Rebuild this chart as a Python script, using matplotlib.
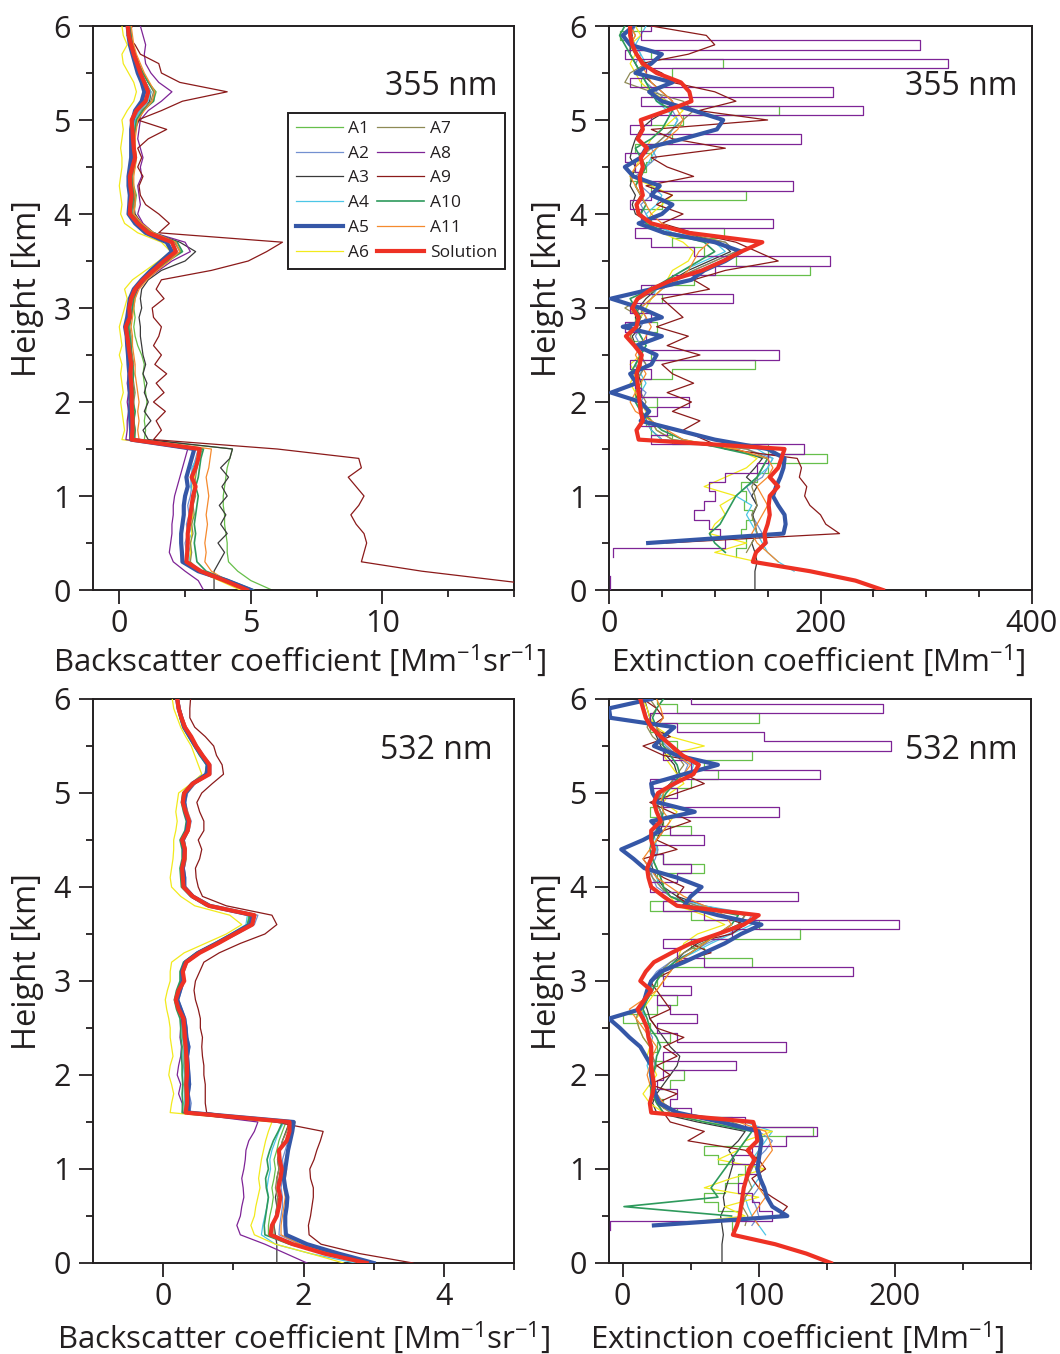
import numpy as np
import matplotlib
matplotlib.use('Agg')
import matplotlib.pyplot as plt

plt.rcParams['font.family'] = ['Open Sans', 'DejaVu Sans']
plt.rcParams['mathtext.fontset'] = 'custom'
plt.rcParams['mathtext.rm'] = 'Open Sans'
plt.rcParams['mathtext.default'] = 'regular'

nan = float('nan')

# height grid of every profile [km]
heights = np.round(np.linspace(0.0, 6.0, 61), 1)

names = ['A1', 'A2', 'A3', 'A4', 'A5', 'A6', 'A7', 'A8', 'A9', 'A10', 'A11', 'Solution']

# ---------------- 355 nm backscatter [Mm-1 sr-1] ----------------
b355_a1 = [5.8, 5.0, 4.5, 4.15, 4.1, 4.1, 4.05, 4.0, 4.0, 3.95,
           3.95, 4.0, 4.05, 4.1, 4.2, 4.3, 0.95, 1.0, 0.95, 1.0,
           1.05, 1.0, 0.95, 0.9, 0.95, 0.85, 0.7, 0.6, 0.55, 0.6,
           0.55, 0.6, 0.7, 0.95, 1.35, 1.8, 2.35, 2.1, 1.2, 0.8,
           0.55, 0.6, 0.65, 0.55, 0.5, 0.6, 0.65, 0.6, 0.6, 0.55,
           0.55, 0.8, 1.3, 1.4, 1.1, 0.9, 0.75, 0.6, 0.5, 0.45,
           0.4]
b355_a2 = [4.9, 4.0, 3.0, 2.5, 2.55, 2.5, 2.6, 2.55, 2.65, 2.6,
           2.7, 2.75, 2.7, 2.8, 2.9, 3.0, 0.5, 0.55, 0.5, 0.45,
           0.5, 0.45, 0.5, 0.45, 0.4, 0.42, 0.4, 0.35, 0.3, 0.4,
           0.42, 0.5, 0.65, 0.95, 1.35, 1.75, 2.2, 1.95, 1.15, 0.7,
           0.42, 0.45, 0.5, 0.45, 0.42, 0.5, 0.55, 0.5, 0.5, 0.5,
           0.55, 0.75, 1.05, 1.15, 1.0, 0.8, 0.65, 0.55, 0.45, 0.4,
           0.35]
b355_a3 = [3.6, 3.6, 3.6, 3.8, 4.0, 3.75, 4.1, 3.85, 4.05, 3.8,
           4.1, 3.9, 4.15, 3.85, 4.2, 4.3, 1.1, 0.9, 1.2, 0.95,
           1.1, 0.95, 1.05, 0.9, 1.0, 0.9, 0.85, 0.8, 0.8, 0.75,
           0.85, 0.8, 0.85, 1.1, 1.6, 2.5, 2.9, 2.3, 1.3, 0.85,
           0.6, 0.55, 0.6, 0.5, 0.45, 0.55, 0.6, 0.55, 0.55, 0.6,
           0.75, 0.9, 1.15, 1.2, 1.0, 0.8, 0.65, 0.5, 0.45, 0.4,
           0.35]
b355_a4 = [4.7, 3.9, 3.0, 2.65, 2.7, 2.6, 2.75, 2.65, 2.8, 2.7,
           2.85, 2.7, 2.8, 2.75, 2.95, 3.1, 0.55, 0.5, 0.55, 0.5,
           0.55, 0.5, 0.5, 0.45, 0.5, 0.45, 0.4, 0.4, 0.35, 0.4,
           0.45, 0.5, 0.6, 0.9, 1.3, 1.7, 2.1, 2.0, 1.2, 0.75,
           0.45, 0.5, 0.5, 0.45, 0.45, 0.5, 0.55, 0.5, 0.5, 0.55,
           0.6, 0.8, 1.1, 1.2, 1.0, 0.85, 0.7, 0.55, 0.45, 0.4,
           0.35]
b355_a5 = [5.0, 4.1, 3.0, 2.4, 2.38, 2.35, 2.35, 2.4, 2.45, 2.45,
           2.5, 2.6, 2.55, 2.65, 2.75, 2.85, 0.45, 0.45, 0.42, 0.4,
           0.42, 0.4, 0.38, 0.38, 0.35, 0.33, 0.3, 0.28, 0.22, 0.3,
           0.35, 0.4, 0.55, 0.85, 1.2, 1.6, 2.0, 1.8, 1.0, 0.6,
           0.35, 0.38, 0.4, 0.35, 0.35, 0.4, 0.45, 0.45, 0.45, 0.45,
           0.5, 0.6, 0.85, 0.95, 0.85, 0.7, 0.6, 0.5, 0.4, 0.35,
           0.32]
b355_a6 = [4.6, 3.8, 3.0, 2.7, 2.7, 2.72, 2.75, 2.75, 2.8, 2.8,
           2.85, 2.8, 2.85, 2.9, 2.95, 3.0, 0.1, 0.2, 0.15, 0.1,
           0.05, 0.15, 0.1, 0.05, 0.1, 0.0, 0.1, 0.05, 0.0, 0.1,
           0.2, 0.3, 0.2, 0.5, 1.0, 1.5, 1.95, 1.6, 0.7, 0.2,
           0.05, 0.1, 0.05, 0.0, 0.05, 0.1, 0.1, 0.05, 0.1, 0.15,
           0.1, 0.3, 0.55, 0.65, 0.55, 0.35, 0.15, 0.1, 0.3, 0.15,
           0.1]
b355_a7 = [4.8, 4.0, 3.1, 2.7, 2.75, 2.7, 2.8, 2.75, 2.85, 2.8,
           2.9, 2.85, 2.9, 2.95, 3.05, 3.15, 0.6, 0.6, 0.55, 0.6,
           0.55, 0.6, 0.55, 0.5, 0.55, 0.5, 0.45, 0.45, 0.4, 0.45,
           0.5, 0.55, 0.7, 1.0, 1.4, 1.85, 2.3, 2.1, 1.25, 0.8,
           0.5, 0.55, 0.55, 0.5, 0.5, 0.55, 0.6, 0.55, 0.55, 0.6,
           0.65, 0.85, 1.2, 1.3, 1.1, 0.9, 0.75, 0.6, 0.5, 0.45,
           0.4]
b355_a8 = [3.2, 3.0, 2.5, 2.05, 1.9, 1.95, 2.0, 2.0, 2.05, 2.05,
           2.1, 2.2, 2.3, 2.4, 2.5, 2.6, 0.25, 0.3, 0.3, 0.35,
           0.3, 0.35, 0.3, 0.35, 0.4, 0.38, 0.4, 0.35, 0.3, 0.45,
           0.5, 0.55, 0.7, 1.0, 1.5, 2.0, 2.7, 2.5, 1.3, 0.9,
           0.7, 0.8, 0.75, 0.7, 0.85, 0.8, 0.9, 0.8, 0.7, 0.75,
           0.8, 1.1, 1.6, 2.0, 1.5, 1.2, 1.0, 0.95, 1.0, 0.9,
           0.8]
b355_a9 = [17.5, 14.5, 11.5, 9.2, 9.3, 9.4, 9.3, 9.0, 8.8, 9.1,
           9.3, 9.0, 8.7, 9.2, 9.1, 6.0, 1.3, 1.6, 1.4, 1.75,
           1.3, 1.7, 1.4, 1.8, 1.35, 1.6, 1.3, 1.5, 1.6, 1.3,
           1.25, 1.7, 1.4, 1.6, 3.5, 4.9, 5.6, 6.2, 1.5, 1.9,
           1.5, 1.0, 0.8, 0.75, 0.9, 0.7, 0.85, 0.7, 1.1, 1.8,
           0.7, 1.6, 2.4, 4.1, 2.3, 1.6, 1.5, 0.8, 0.6, 0.3,
           0.5]
b355_a10 = [5.1, 4.2, 3.3, 2.95, 2.9, 2.85, 2.9, 2.85, 2.9, 2.95,
            3.0, 2.9, 3.0, 3.05, 3.1, 3.2, 0.55, 0.6, 0.55, 0.6,
            0.5, 0.55, 0.5, 0.55, 0.5, 0.45, 0.45, 0.4, 0.35, 0.45,
            0.5, 0.55, 0.65, 0.95, 1.4, 1.85, 2.4, 2.2, 1.3, 0.8,
            0.45, 0.5, 0.55, 0.5, 0.45, 0.55, 0.6, 0.55, 0.55, 0.6,
            0.65, 0.9, 1.3, 1.35, 1.1, 0.9, 0.7, 0.6, 0.5, 0.45,
            0.4]
b355_a11 = [4.9, 4.1, 3.5, 3.25, 3.3, 3.25, 3.3, 3.35, 3.3, 3.35,
            3.4, 3.35, 3.3, 3.4, 3.45, 3.5, 0.75, 0.7, 0.75, 0.7,
            0.75, 0.7, 0.65, 0.6, 0.6, 0.55, 0.5, 0.5, 0.45, 0.5,
            0.55, 0.6, 0.75, 1.05, 1.45, 1.9, 2.3, 2.15, 1.3, 0.85,
            0.55, 0.6, 0.6, 0.55, 0.55, 0.6, 0.65, 0.6, 0.6, 0.65,
            0.7, 0.95, 1.25, 1.35, 1.15, 0.95, 0.8, 0.65, 0.55, 0.5,
            0.45]
b355_sol = [4.85, 4.0, 3.1, 2.55, 2.58, 2.6, 2.6, 2.65, 2.7, 2.75,
            2.8, 2.9, 2.75, 2.9, 3.0, 3.05, 0.47, 0.5, 0.5, 0.48,
            0.47, 0.47, 0.45, 0.42, 0.45, 0.4, 0.35, 0.3, 0.25, 0.4,
            0.38, 0.45, 0.6, 0.9, 1.3, 1.7, 2.15, 2.0, 1.1, 0.7,
            0.4, 0.42, 0.47, 0.42, 0.4, 0.5, 0.6, 0.55, 0.52, 0.5,
            0.47, 0.65, 1.0, 1.1, 0.95, 0.8, 0.68, 0.55, 0.45, 0.36,
            0.32]

# ---------------- 355 nm extinction [Mm-1] ----------------
e355_a1 = [nan, nan, nan, nan, 120, 130, 125, 130, 135, 128,
           130, 125, 140, 150, 206, 150, 60, 40, 35, 30,
           45, 25, 30, 60, 138, 40, 30, 20, 45, 25,
           30, 50, 40, 80, 190, 120, 90, 60, 109, 40,
           30, 50, 130, 40, 20, 35, 40, 25, 60, 30,
           70, 161, 50, 40, 30, 60, 108, 40, 20, 10,
           30]
e355_a2 = [nan, nan, nan, nan, 140, 150, 145, 140, 135, 140,
           135, 130, 145, 150, 155, 130, 60, 45, 40, 35,
           30, 35, 25, 30, 35, 28, 30, 25, 30, 35,
           30, 40, 50, 65, 80, 100, 120, 110, 60, 40,
           35, 30, 40, 30, 25, 35, 45, 40, 50, 60,
           65, 60, 55, 45, 35, 30, 25, 30, 25, 20,
           25]
e355_a3 = [138, 138, 138, 140, 138, 135, 140, 138, 136, 140,
           135, 140, 130, 138, 145, 120, 50, 40, 35, 30,
           28, 25, 30, 28, 25, 30, 25, 22, 30, 25,
           28, 35, 45, 60, 75, 95, 115, 105, 70, 40,
           25, 22, 25, 20, 22, 25, 20, 22, 25, 30,
           40, 55, 60, 50, 40, 30, 25, 20, 20, 22,
           20]
e355_a4 = [nan, nan, 175, 160, 150, 145, 140, 135, 130, 135,
           120, 130, 140, 150, 155, 140, 50, 40, 35, 30,
           25, 30, 35, 30, 25, 30, 35, 30, 25, 30,
           35, 40, 45, 55, 70, 90, 110, 100, 60, 40,
           35, 45, 50, 40, 30, 35, 40, 45, 55, 60,
           65, 55, 45, 40, 35, 30, 35, 30, 25, 30,
           35]
e355_a5 = [nan, nan, nan, nan, nan, 37, 165, 167, 166, 160,
           155, 158, 162, 165, 166, 150, 100, 65, 30, 38,
           30, 2, 26, 20, 40, 45, 26, 50, 13, 50,
           30, 2, 40, 78, 90, 110, 125, 100, 52, 28,
           50, 60, 40, 48, 23, 15, 30, 35, 70, 102,
           108, 80, 50, 38, 60, 25, 40, 50, 20, 13,
           23]
e355_a6 = [nan, nan, nan, 140, 100, 130, 95, 100, 110, 105,
           120, 90, 110, 130, 140, 120, 60, 45, 40, 35,
           30, 25, 20, 25, 20, 30, 25, 20, 25, 30,
           35, 40, 50, 55, 60, 75, 80, 70, 50, 35,
           40, 50, 60, 40, 20, 25, 30, 35, 40, 50,
           60, 70, 55, 40, 30, 25, 20, 25, 20, 30,
           25]
e355_a7 = [nan, nan, nan, nan, 130, 135, 140, 138, 135, 140,
           138, 135, 140, 145, 150, 130, 60, 45, 40, 30,
           35, 30, 25, 30, 35, 30, 25, 20, 25, 30,
           15, 30, 45, 60, 80, 100, 120, 110, 70, 40,
           30, 25, 30, 25, 30, 35, 30, 40, 50, 60,
           70, 80, 70, 40, 15, 20, 35, 25, 20, 25,
           20]
e355_a8 = [1, 1, nan, nan, 4, 110, 105, 95, 80, 90,
           100, 95, 110, 140, 150, 184, 40, 55, 30, 45,
           76, 30, 25, 40, 20, 161, 30, 35, 15, 40,
           20, 117, 30, 60, 100, 209, 80, 40, 25, 155,
           30, 20, 40, 174, 30, 25, 15, 35, 182, 20,
           40, 240, 30, 212, 20, 35, 321, 15, 294, 30,
           40]
e355_a9 = [nan, nan, nan, nan, nan, 54, 218, 205, 200, 190,
           185, 187, 180, 182, 178, 110, 90, 70, 86, 60,
           78, 55, 80, 60, 50, 86, 55, 75, 45, 70,
           60, 50, 95, 80, 110, 160, 140, 120, 80, 50,
           70, 45, 60, 35, 80, 55, 40, 110, 60, 40,
           150, 85, 120, 100, 60, 50, 30, 75, 100, 92,
           40]
e355_a10 = [nan, nan, nan, nan, 110, 100, 95, 105, 110, 115,
            120, 130, 140, 145, 150, 110, 70, 50, 40, 30,
            25, 30, 25, 20, 25, 30, 35, 30, 25, 30,
            25, 20, 40, 55, 70, 85, 100, 90, 55, 35,
            30, 35, 30, 25, 30, 35, 30, 25, 40, 50,
            55, 60, 45, 40, 35, 30, 25, 20, 15, 10,
            15]
e355_a11 = [nan, nan, nan, 160, 150, 140, 135, 140, 145, 150,
            145, 140, 150, 155, 150, 120, 70, 55, 40, 25,
            20, 25, 30, 35, 30, 25, 30, 35, 40, 35,
            30, 40, 50, 65, 75, 80, 85, 95, 70, 50,
            40, 35, 30, 25, 20, 25, 35, 45, 55, 65,
            70, 65, 60, 50, 40, 35, 30, 25, 20, 25,
            20]
e355_sol = [259, 233, 190, 136, 139, 148, 147, 150, 152, 151,
            152, 160, 152, 160, 163, 166, 28, 26, 32, 30,
            29, 28, 27, 26, 29, 31, 24, 16, 26, 28,
            22, 27, 40, 60, 88, 108, 125, 145, 75, 40,
            28, 26, 32, 30, 29, 32, 30, 36, 27, 32,
            30, 55, 78, 76, 68, 45, 32, 26, 22, 20,
            20]

# ---------------- 532 nm backscatter [Mm-1 sr-1] ----------------
b532_a1 = [2.85, 2.3, 1.8, 1.5, 1.5, 1.52, 1.55, 1.57, 1.55, 1.58,
           1.6, 1.58, 1.62, 1.65, 1.7, 1.75, 0.3, 0.3, 0.32, 0.3,
           0.32, 0.31, 0.3, 0.3, 0.28, 0.28, 0.27, 0.22, 0.18, 0.2,
           0.26, 0.25, 0.3, 0.48, 0.74, 0.98, 1.2, 1.22, 0.62, 0.4,
           0.28, 0.27, 0.26, 0.29, 0.29, 0.26, 0.33, 0.35, 0.3, 0.27,
           0.29, 0.4, 0.62, 0.62, 0.53, 0.45, 0.38, 0.3, 0.25, 0.21,
           0.2]
b532_a2 = [2.95, 2.45, 1.95, 1.65, 1.66, 1.68, 1.7, 1.7, 1.68, 1.7,
           1.72, 1.7, 1.74, 1.78, 1.82, 1.86, 0.38, 0.4, 0.37, 0.39,
           0.38, 0.37, 0.36, 0.38, 0.35, 0.34, 0.32, 0.27, 0.22, 0.26,
           0.3, 0.3, 0.35, 0.54, 0.8, 1.06, 1.3, 1.35, 0.7, 0.45,
           0.32, 0.32, 0.3, 0.33, 0.33, 0.3, 0.37, 0.4, 0.35, 0.32,
           0.35, 0.46, 0.68, 0.68, 0.58, 0.49, 0.41, 0.33, 0.28, 0.24,
           0.22]
b532_a3 = [1.62, 1.62, 1.62, 1.6, 1.58, 1.6, 1.62, 1.6, 1.63, 1.62,
           1.65, 1.63, 1.67, 1.7, 1.75, 1.8, 0.33, 0.33, 0.34, 0.32,
           0.34, 0.33, 0.32, 0.33, 0.3, 0.3, 0.29, 0.24, 0.2, 0.23,
           0.28, 0.28, 0.33, 0.52, 0.78, 1.02, 1.25, 1.28, 0.65, 0.42,
           0.3, 0.3, 0.28, 0.31, 0.31, 0.28, 0.35, 0.37, 0.33, 0.29,
           0.31, 0.43, 0.64, 0.65, 0.55, 0.46, 0.39, 0.31, 0.26, 0.22,
           0.21]
b532_a4 = [2.74, 2.1, 1.6, 1.4, 1.42, 1.45, 1.48, 1.5, 1.48, 1.5,
           1.53, 1.52, 1.55, 1.6, 1.65, 1.72, 0.3, 0.31, 0.3, 0.3,
           0.3, 0.29, 0.28, 0.3, 0.27, 0.27, 0.26, 0.21, 0.17, 0.2,
           0.25, 0.25, 0.3, 0.47, 0.72, 0.96, 1.18, 1.2, 0.6, 0.39,
           0.27, 0.26, 0.26, 0.28, 0.28, 0.26, 0.32, 0.34, 0.3, 0.27,
           0.28, 0.39, 0.6, 0.61, 0.52, 0.44, 0.37, 0.29, 0.24, 0.21,
           0.19]
b532_a5 = [3.0, 2.5, 2.05, 1.75, 1.74, 1.74, 1.76, 1.77, 1.74, 1.72,
           1.74, 1.76, 1.78, 1.81, 1.84, 1.86, 0.36, 0.36, 0.35, 0.37,
           0.36, 0.35, 0.34, 0.36, 0.33, 0.32, 0.3, 0.25, 0.2, 0.24,
           0.28, 0.27, 0.32, 0.5, 0.76, 1.0, 1.24, 1.28, 0.66, 0.42,
           0.3, 0.3, 0.28, 0.3, 0.3, 0.28, 0.34, 0.36, 0.32, 0.3,
           0.32, 0.42, 0.62, 0.64, 0.55, 0.46, 0.38, 0.3, 0.26, 0.22,
           0.2]
b532_a6 = [2.57, 2.1, 1.6, 1.3, 1.25, 1.3, 1.32, 1.35, 1.38, 1.36,
           1.38, 1.4, 1.43, 1.46, 1.5, 1.55, 0.1, 0.12, 0.15, 0.12,
           0.08, 0.1, 0.14, 0.12, 0.1, 0.1, 0.08, 0.05, 0.03, 0.06,
           0.1, 0.1, 0.12, 0.3, 0.6, 0.9, 1.12, 0.95, 0.45, 0.25,
           0.12, 0.1, 0.12, 0.14, 0.15, 0.15, 0.18, 0.2, 0.18, 0.2,
           0.22, 0.4, 0.55, 0.5, 0.45, 0.4, 0.32, 0.25, 0.2, 0.15,
           0.13]
b532_a7 = [2.9, 2.35, 1.85, 1.58, 1.58, 1.6, 1.62, 1.63, 1.6, 1.62,
           1.65, 1.63, 1.66, 1.7, 1.76, 1.8, 0.31, 0.32, 0.31, 0.31,
           0.31, 0.3, 0.3, 0.31, 0.28, 0.28, 0.27, 0.22, 0.18, 0.21,
           0.26, 0.26, 0.31, 0.5, 0.76, 1.0, 1.22, 1.25, 0.63, 0.41,
           0.29, 0.28, 0.27, 0.3, 0.3, 0.27, 0.34, 0.36, 0.31, 0.28,
           0.3, 0.41, 0.63, 0.63, 0.54, 0.45, 0.38, 0.3, 0.25, 0.22,
           0.2]
b532_a8 = [2.05, 1.75, 1.45, 1.1, 1.05, 1.1, 1.12, 1.15, 1.14, 1.12,
           1.15, 1.17, 1.18, 1.22, 1.3, 1.35, 0.28, 0.27, 0.22, 0.25,
           0.2, 0.22, 0.25, 0.26, 0.24, 0.25, 0.26, 0.22, 0.18, 0.2,
           0.26, 0.27, 0.33, 0.52, 0.78, 1.05, 1.25, 1.3, 0.66, 0.42,
           0.3, 0.3, 0.28, 0.31, 0.32, 0.28, 0.36, 0.38, 0.34, 0.3,
           0.33, 0.45, 0.66, 0.66, 0.56, 0.47, 0.4, 0.32, 0.27, 0.24,
           0.22]
b532_a9 = [3.56, 2.8, 2.25, 2.08, 2.07, 2.1, 2.12, 2.14, 2.14, 2.1,
           2.09, 2.15, 2.19, 2.24, 2.28, 1.6, 0.62, 0.6, 0.6, 0.6,
           0.58, 0.58, 0.56, 0.55, 0.56, 0.53, 0.53, 0.5, 0.46, 0.44,
           0.46, 0.52, 0.58, 0.8, 1.1, 1.45, 1.62, 1.55, 0.9, 0.56,
           0.5, 0.47, 0.46, 0.52, 0.55, 0.5, 0.58, 0.58, 0.52, 0.48,
           0.55, 0.7, 0.86, 0.84, 0.76, 0.72, 0.6, 0.45, 0.38, 0.38,
           0.39]
b532_a10 = [2.95, 2.35, 1.8, 1.45, 1.44, 1.46, 1.48, 1.5, 1.47, 1.46,
            1.5, 1.48, 1.52, 1.57, 1.64, 1.7, 0.27, 0.28, 0.27, 0.28,
            0.27, 0.27, 0.26, 0.27, 0.25, 0.25, 0.24, 0.19, 0.16, 0.19,
            0.24, 0.24, 0.29, 0.47, 0.73, 0.98, 1.2, 1.24, 0.62, 0.39,
            0.26, 0.25, 0.24, 0.27, 0.27, 0.24, 0.31, 0.33, 0.29, 0.26,
            0.28, 0.4, 0.6, 0.62, 0.52, 0.44, 0.36, 0.28, 0.24, 0.21,
            0.19]
b532_a11 = [2.9, 2.4, 1.95, 1.68, 1.68, 1.7, 1.72, 1.74, 1.72, 1.74,
            1.76, 1.74, 1.77, 1.8, 1.84, 1.88, 0.34, 0.35, 0.34, 0.35,
            0.35, 0.34, 0.34, 0.35, 0.32, 0.32, 0.31, 0.26, 0.21, 0.24,
            0.29, 0.29, 0.34, 0.53, 0.8, 1.05, 1.28, 1.32, 0.68, 0.44,
            0.32, 0.31, 0.3, 0.33, 0.33, 0.3, 0.37, 0.39, 0.35, 0.31,
            0.34, 0.45, 0.67, 0.67, 0.57, 0.48, 0.41, 0.33, 0.28, 0.24,
            0.22]
b532_sol = [2.9, 2.3, 1.85, 1.53, 1.55, 1.62, 1.65, 1.67, 1.64, 1.67,
            1.69, 1.66, 1.65, 1.76, 1.8, 1.8, 0.32, 0.34, 0.34, 0.33,
            0.34, 0.34, 0.33, 0.32, 0.31, 0.3, 0.29, 0.22, 0.18, 0.22,
            0.3, 0.28, 0.33, 0.52, 0.78, 1.02, 1.27, 1.3, 0.65, 0.42,
            0.29, 0.28, 0.27, 0.3, 0.31, 0.27, 0.35, 0.37, 0.32, 0.28,
            0.3, 0.42, 0.66, 0.66, 0.56, 0.47, 0.4, 0.31, 0.26, 0.22,
            0.2]

# ---------------- 532 nm extinction [Mm-1] ----------------
e532_a1 = [nan, nan, nan, nan, 80, 85, 70, 60, 75, 85,
           90, 70, 60, 100, 140, 80, 40, 30, 20, 35,
           45, 30, 20, 25, 35, 20, 0, 25, 40, 20,
           25, 30, 95, 60, 50, 130, 100, 50, 20, 40,
           30, 25, 60, 30, 25, 20, 50, 30, 20, 25,
           30, 50, 70, 60, 95, 40, 30, 20, 100, 40,
           25]
e532_a2 = [nan, nan, nan, nan, 95, 100, 98, 95, 100, 102,
           100, 98, 105, 110, 100, 70, 35, 28, 25, 23,
           22, 24, 22, 20, 22, 18, 16, 14, 18, 22,
           20, 25, 35, 50, 62, 78, 90, 95, 55, 35,
           25, 22, 20, 24, 26, 22, 24, 30, 28, 25,
           28, 35, 45, 48, 40, 32, 26, 22, 18, 16,
           15]
e532_a3 = [73, 73, 73, 74, 73, 72, 75, 74, 76, 78,
           80, 82, 78, 85, 90, 55, 25, 22, 25, 30,
           35, 40, 42, 35, 30, 25, 20, 18, 15, 18,
           22, 30, 38, 45, 55, 70, 85, 90, 60, 40,
           30, 25, 22, 20, 22, 25, 28, 30, 28, 25,
           28, 35, 40, 38, 32, 28, 25, 22, 20, 18,
           16]
e532_a4 = [nan, nan, nan, 105, 100, 95, 92, 90, 95, 100,
           98, 95, 100, 105, 110, 90, 40, 30, 25, 22,
           20, 18, 20, 22, 20, 18, 16, 15, 18, 20,
           22, 28, 38, 52, 65, 80, 95, 100, 60, 35,
           28, 25, 20, 22, 25, 24, 22, 26, 28, 25,
           30, 40, 50, 52, 42, 34, 28, 22, 18, 16,
           14]
e532_a5 = [nan, nan, nan, nan, 23, 121, 110, 106, 104, 101,
           99, 100, 101, 102, 100, 72, 40, 27, 24, 22,
           21, 21, 17, 13, 5, -2, -10, 13, 16, 18,
           21, 28, 45, 60, 75, 87, 102, 70, 45, 50,
           58, 40, 16, 8, -1, 15, 28, 21, 53, 26,
           22, 21, 45, 70, 40, 23, 30, 38, -9, -10,
           21]
e532_a6 = [nan, nan, nan, nan, 30, 90, 75, 100, 60, 80,
           105, 70, 85, 90, 110, 60, 30, 20, 15, 20,
           25, 22, 18, 20, 15, 12, 10, 15, 20, 25,
           30, 35, 40, 42, 45, 55, 75, 60, 40, 35,
           30, 28, 25, 22, 20, 25, 30, 35, 40, 30,
           35, 45, 40, 35, 30, 60, 35, 25, 20, 18,
           15]
e532_a7 = [nan, nan, nan, nan, 90, 92, 88, 90, 95, 92,
           95, 98, 100, 102, 100, 80, 35, 25, 22, 20,
           22, 25, 22, 20, 15, 12, 10, 12, 15, 20,
           22, 28, 35, 45, 58, 72, 85, 90, 55, 35,
           28, 22, 18, 20, 24, 22, 25, 30, 28, 25,
           28, 35, 40, 45, 40, 30, 22, 18, 20, 25,
           20]
e532_a8 = [nan, nan, nan, nan, -9, 110, 100, 95, 85, 90,
           100, 80, 95, 120, 143, 90, 50, 35, 40, 25,
           30, 83, 30, 120, 40, 25, 55, 35, 25, 50,
           30, 169, 60, 40, 30, 80, 203, 60, 30, 129,
           20, 40, 50, 30, 20, 60, 35, 25, 115, 30,
           40, 20, 145, 50, 30, 197, 104, 40, 20, 191,
           50]
e532_a9 = [nan, nan, nan, nan, nan, 115, 121, 110, 100, 95,
           105, 100, 90, 48, 60, 35, 30, 25, 40, 20,
           35, 25, 40, 30, 45, 25, 20, 35, 30, 25,
           20, 35, 40, 65, 50, 80, 90, 70, 50, 40,
           45, 30, 20, 15, 40, 25, 30, 50, 35, 20,
           40, 60, 45, 70, 30, 15, 35, 20, 30, 25,
           15]
e532_a10 = [nan, nan, nan, nan, nan, 80, 1, 70, 65, 70,
            75, 80, 85, 90, 95, 60, 30, 25, 22, 20,
            22, 24, 25, 28, 25, 20, 18, 15, 18, 22,
            25, 30, 38, 50, 60, 70, 80, 85, 50, 35,
            30, 28, 25, 22, 20, 22, 25, 28, 30, 28,
            32, 38, 42, 40, 35, 30, 28, 25, 22, 25,
            30]
e532_a11 = [nan, nan, nan, nan, 100, 95, 100, 105, 100, 102,
            100, 105, 110, 108, 105, 85, 40, 30, 25, 20,
            18, 20, 22, 25, 20, 15, 10, 5, 15, 25,
            30, 35, 40, 50, 60, 70, 80, 75, 60, 45,
            35, 25, 20, 15, 20, 25, 30, 35, 30, 28,
            30, 38, 45, 50, 40, 35, 30, 25, 30, 28,
            25]
e532_sol = [153, 135, 112, 81, 84, 86, 87, 88, 89, 91,
            93, 97, 92, 99, 98, 96, 21, 20, 22, 23,
            22, 21, 21, 21, 19, 18, 15, 11, 16, 21,
            13, 17, 23, 36, 50, 70, 89, 100, 40, 30,
            21, 19, 18, 21, 23, 21, 21, 28, 25, 23,
            26, 38, 52, 56, 44, 36, 28, 21, 17, 15,
            13]

colors = {'A1': '#66BF4A', 'A2': '#7390D0', 'A3': '#3A3A3A', 'A4': '#4CC6E6',
          'A5': '#3557A7', 'A6': '#F2EA1C', 'A7': '#8E8A55', 'A8': '#7E2496',
          'A9': '#8B1A1A', 'A10': '#2E9A5C', 'A11': '#F58A2E', 'Solution': '#EE3124'}
widths = {'A5': 3.0, 'Solution': 3.0, 'A10': 1.2}
TXT = '#231F20'


def vsteps(h, v):
    """Turn a profile into a stair line: value held over each height bin."""
    h = np.asarray(h, float)
    v = np.asarray(v, float)
    mid = (h[:-1] + h[1:]) / 2
    hh = np.concatenate([[h[0]], np.repeat(mid, 2), [h[-1]]])
    return np.repeat(v, 2), hh


def drawPanel(ax, profiles, stepped=()):
    handles = {}
    order = [n for n in names if n not in ('A5', 'Solution')] + ['A5', 'Solution']
    for z, name in enumerate(order):
        vals = profiles[names.index(name)]
        if name in stepped:
            x, y = vsteps(heights, vals)
        else:
            x, y = np.asarray(vals, float), heights
        line, = ax.plot(x, y, color=colors[name], lw=widths.get(name, 0.9),
                        label=name, zorder=2 + z, solid_joinstyle='round')
        handles[name] = line
    return [handles[n] for n in names]


def styleAxes(ax, xlim, major, minor, xlabel, tag, tag_pos, xlabel_pos, ylabel_x):
    ax.set_xlim(*xlim)
    ax.set_ylim(0, 6)
    ax.set_xticks(major)
    ax.set_xticks(minor, minor=True)
    ax.set_yticks(range(7))
    ax.set_yticks(np.arange(0.5, 6, 1.0), minor=True)
    ax.tick_params(which='major', direction='out', length=10, width=1.3,
                   labelsize=22, colors=TXT, pad=4)
    ax.tick_params(which='minor', direction='out', length=5, width=1.3, colors=TXT)
    ax.tick_params(axis='y', which='major', pad=6)
    for s in ax.spines.values():
        s.set_linewidth(1.4)
        s.set_color(TXT)
    ax.set_ylabel('Height [km]', fontsize=23.5, color=TXT)
    ax.yaxis.set_label_coords(ylabel_x, 0.535)
    ax.set_xlabel(xlabel, fontsize=22.5, color=TXT)
    ax.xaxis.set_label_coords(*xlabel_pos)
    ax.text(tag_pos[0], tag_pos[1], tag, transform=ax.transAxes, ha='right', va='center',
            fontsize=23, color=TXT)


fig = plt.figure(figsize=(10.6, 13.54), dpi=100)
W, H = 1060.0, 1354.0


def axAt(x0, y0, x1, y1):
    return fig.add_axes([x0 / W, 1 - y1 / H, (x1 - x0) / W, (y1 - y0) / H])


ax1 = axAt(93, 26, 514, 590)
ax2 = axAt(609, 26, 1032, 590)
ax3 = axAt(93, 699, 514, 1263)
ax4 = axAt(609, 699, 1031, 1263)

b355 = [b355_a1, b355_a2, b355_a3, b355_a4, b355_a5, b355_a6, b355_a7,
        b355_a8, b355_a9, b355_a10, b355_a11, b355_sol]
e355 = [e355_a1, e355_a2, e355_a3, e355_a4, e355_a5, e355_a6, e355_a7,
        e355_a8, e355_a9, e355_a10, e355_a11, e355_sol]
b532 = [b532_a1, b532_a2, b532_a3, b532_a4, b532_a5, b532_a6, b532_a7,
        b532_a8, b532_a9, b532_a10, b532_a11, b532_sol]
e532 = [e532_a1, e532_a2, e532_a3, e532_a4, e532_a5, e532_a6, e532_a7,
        e532_a8, e532_a9, e532_a10, e532_a11, e532_sol]

legend_lines = drawPanel(ax1, b355)
drawPanel(ax2, e355, stepped=('A1', 'A8'))
drawPanel(ax3, b532)
drawPanel(ax4, e532, stepped=('A1', 'A8'))

bsc_label = 'Backscatter coefficient [Mm$^{-1}$sr$^{-1}$]'
ext_label = 'Extinction coefficient [Mm$^{-1}$]'
styleAxes(ax1, (-1, 15), [0, 5, 10], [2.5, 7.5, 12.5, 15], bsc_label, '355 nm',
          (0.96, 0.892), (0.49, -0.092), -0.116)
styleAxes(ax2, (0, 400), [0, 200, 400], [50, 100, 150, 250, 300, 350], ext_label, '355 nm',
          (0.966, 0.892), (0.495, -0.092), -0.106)
styleAxes(ax3, (-1, 5), [0, 2, 4], [1, 3, 5], bsc_label, '532 nm',
          (0.95, 0.908), (0.5, -0.1), -0.116)
styleAxes(ax4, (-10, 300), [0, 100, 200], [50, 150, 250, 300], ext_label, '532 nm',
          (0.968, 0.908), (0.445, -0.1), -0.106)

leg = ax1.legend(legend_lines, names, ncol=2, loc='upper left',
                 bbox_to_anchor=(0.463, 0.846), borderaxespad=0, fontsize=12.5,
                 handlelength=2.7, handletextpad=0.3, columnspacing=0.5,
                 labelspacing=0.5, borderpad=0.45, fancybox=False, framealpha=1)
leg.get_frame().set_edgecolor(TXT)
leg.get_frame().set_linewidth(1.4)
leg.set_zorder(30)
for t in leg.get_texts():
    t.set_color(TXT)

fig.savefig('out.png', dpi=100)
